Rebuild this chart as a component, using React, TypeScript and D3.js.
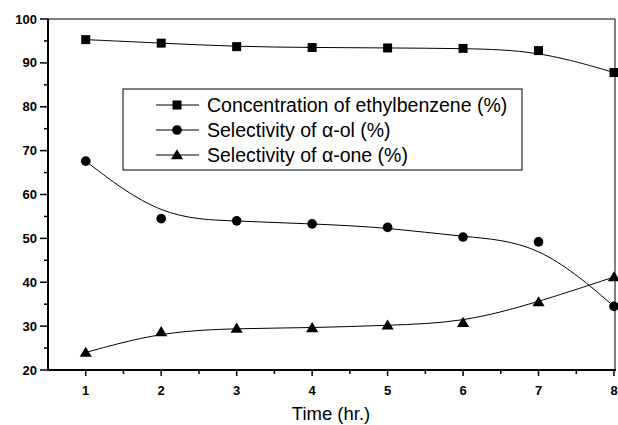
import React from "react";
import * as d3 from "d3";

const times = [1, 2, 3, 4, 5, 6, 7, 8];
const concEthylbenzene = [95.3, 94.5, 93.7, 93.5, 93.4, 93.3, 92.8, 87.8];
const selAlphaOl = [67.6, 54.5, 54.0, 53.3, 52.5, 50.3, 49.2, 34.5];
const selAlphaOne = [24.0, 28.7, 29.5, 29.6, 30.2, 30.8, 35.5, 41.2];
const xTicks = [1, 2, 3, 4, 5, 6, 7, 8];
const yTicks = [20, 30, 40, 50, 60, 70, 80, 90, 100];
const legendLabels = [
  "Concentration of ethylbenzene (%)",
  "Selectivity of \u03b1-ol (%)",
  "Selectivity of \u03b1-one (%)",
];

const W = 618, H = 425;
const L = 48, R = 614, T = 19, B = 370;
const FONT = "'Liberation Sans', Arial, Helvetica, sans-serif";

function Marker({ kind, x, y }: { kind: string; x: number; y: number }) {
  if (kind === "square") return <rect x={x - 4.5} y={y - 4.5} width={9} height={9} fill="#000" />;
  if (kind === "circle") return <circle cx={x} cy={y} r={4.8} fill="#000" />;
  const s = 5.8;
  return <path d={`M${x},${y - s}L${x + s * 1.05},${y + s * 0.75}L${x - s * 1.05},${y + s * 0.75}Z`} fill="#000" />;
}

export default function App() {
  const x = d3.scaleLinear().domain([0.5, 8]).range([L, R]);
  const y = d3.scaleLinear().domain([20, 100]).range([B, T]);
  const line = d3
    .line<[number, number]>()
    .x((d) => x(d[0]))
    .y((d) => y(d[1]))
    .curve(d3.curveBasis);
  const series = [
    { vals: concEthylbenzene, kind: "square" },
    { vals: selAlphaOl, kind: "circle" },
    { vals: selAlphaOne, kind: "triangle" },
  ];
  const xMinor = d3.range(1.5, 8, 1);
  const yMinor = d3.range(25, 100, 10);
  return (
    <svg width={W} height={H} style={{ position: "absolute", left: 0, top: 0, background: "#fff" }}>
      <rect x={0} y={0} width={W} height={H} fill="#fff" />
      {/* frame */}
      <line x1={L} y1={T} x2={R + 1} y2={T} stroke="#000" strokeWidth={1} />
      <line x1={R + 1} y1={T} x2={R + 1} y2={B} stroke="#000" strokeWidth={1} />
      <line x1={L} y1={T} x2={L} y2={B + 1} stroke="#000" strokeWidth={2} />
      <line x1={L - 1} y1={B} x2={R + 2} y2={B} stroke="#000" strokeWidth={2} />
      {/* y ticks */}
      {yTicks.map((t) => (
        <g key={"y" + t}>
          <line x1={L - 8} x2={L} y1={y(t)} y2={y(t)} stroke="#000" strokeWidth={1.5} />
          <text x={37} y={y(t) + 4.5} textAnchor="end" fontFamily={FONT} fontSize={13} fontWeight="bold">
            {t}
          </text>
        </g>
      ))}
      {yMinor.map((t) => (
        <line key={"ym" + t} x1={L - 4} x2={L} y1={y(t)} y2={y(t)} stroke="#000" strokeWidth={1.5} />
      ))}
      {/* x ticks */}
      {xTicks.map((t) => (
        <g key={"x" + t}>
          <line x1={x(t)} x2={x(t)} y1={B} y2={B + 6} stroke="#000" strokeWidth={1.5} />
          <text x={x(t)} y={395} textAnchor="middle" fontFamily={FONT} fontSize={13} fontWeight="bold">
            {t}
          </text>
        </g>
      ))}
      {xMinor.map((t) => (
        <line key={"xm" + t} x1={x(t)} x2={x(t)} y1={B} y2={B + 4} stroke="#000" strokeWidth={1.5} />
      ))}
      <text x={331} y={420} textAnchor="middle" fontFamily={FONT} fontSize={18.5}>
        Time (hr.)
      </text>
      {/* series */}
      {series.map((s, i) => {
        const pts = times.map((t, j) => [t, s.vals[j]] as [number, number]);
        return (
          <g key={"s" + i}>
            <path d={line(pts) || ""} fill="none" stroke="#000" strokeWidth={1} />
            {pts.map((p, j) => (
              <Marker key={j} kind={s.kind} x={x(p[0])} y={y(p[1])} />
            ))}
          </g>
        );
      })}
      {/* legend */}
      <rect x={123} y={89} width={399} height={81} fill="#fff" stroke="#000" strokeWidth={1} />
      {legendLabels.map((lab, i) => {
        const ly = 105 + i * 25;
        return (
          <g key={"l" + i}>
            <line x1={156} x2={199} y1={ly} y2={ly} stroke="#000" strokeWidth={1} />
            <Marker kind={series[i].kind} x={177} y={ly} />
            <text x={207} y={ly + 6.5} fontFamily={FONT} fontSize={19.5}>
              {lab}
            </text>
          </g>
        );
      })}
    </svg>
  );
}
